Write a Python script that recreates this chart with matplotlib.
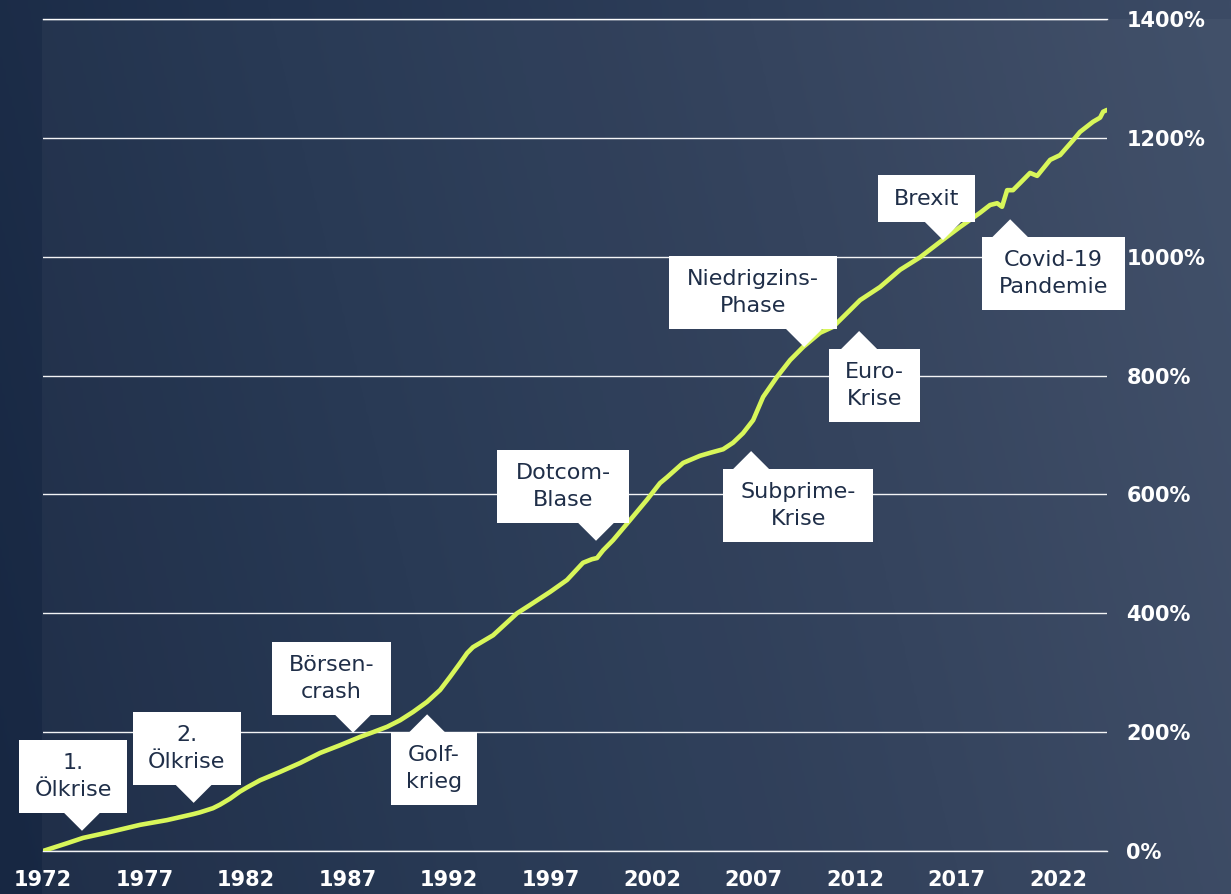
import numpy as np
import matplotlib
matplotlib.use("Agg")
import matplotlib.pyplot as plt
from matplotlib.patches import Polygon, Rectangle
from matplotlib.colors import LinearSegmentedColormap

# ---------------- data ----------------
years = [1972.0, 1973.18, 1973.97, 1975.30, 1976.78, 1978.11, 1979.39, 1979.73,
         1980.37, 1980.72, 1981.21, 1981.70, 1982.05, 1982.69, 1983.67, 1984.66,
         1985.65, 1986.63, 1987.62, 1988.26, 1988.95, 1989.59, 1990.23, 1990.92,
         1991.56, 1992.05, 1992.54, 1992.89, 1993.18, 1994.17, 1995.35, 1995.99,
         1996.98, 1997.81, 1998.60, 1999.04, 1999.29, 1999.59, 2000.08, 2000.92,
         2001.75, 2002.39, 2002.74, 2003.53, 2004.36, 2004.86, 2005.50, 2005.99,
         2006.48, 2006.98, 2007.47, 2008.16, 2008.80, 2009.44, 2010.28, 2010.92,
         2011.75, 2012.25, 2013.23, 2014.22, 2015.20, 2016.19, 2017.17, 2018.16,
         2018.65, 2019.00, 2019.24, 2019.49, 2019.78, 2020.13, 2020.62, 2020.97,
         2021.61, 2022.10, 2022.74, 2023.08, 2023.72, 2024.07, 2024.22, 2024.41]
performance = [0, 13, 22, 32, 44, 52, 62, 65,
               72, 78, 88, 100, 107, 119, 133, 148,
               165, 178, 192, 200, 209, 220, 234, 251,
               271, 293, 316, 333, 343, 363, 400, 414,
               436, 456, 485, 491, 493, 506, 523, 557,
               591, 619, 629, 653, 665, 670, 676, 687,
               703, 725, 764, 798, 826, 848, 872, 882,
               910, 927, 949, 978, 999, 1025, 1050, 1074,
               1087, 1090, 1084, 1112, 1112, 1124, 1141, 1136,
               1163, 1171, 1196, 1210, 1227, 1234, 1244, 1247]

x_ticks = [1972, 1977, 1982, 1987, 1992, 1997, 2002, 2007, 2012, 2017, 2022]
y_ticks = [0, 200, 400, 600, 800, 1000, 1200, 1400]
y_tick_labels = ["0%", "200%", "400%", "600%", "800%", "1000%", "1200%", "1400%"]

event_labels = ["1.\nÖlkrise", "2.\nÖlkrise", "Börsen-\ncrash", "Golf-\nkrieg",
                "Dotcom-\nBlase", "Subprime-\nKrise", "Niedrigzins-\nPhase",
                "Euro-\nKrise", "Brexit", "Covid-19\nPandemie"]
event_years = [1973.92, 1979.42, 1987.27, 1990.92, 1999.24, 2006.88, 2009.49,
               2012.20, 2016.33, 2019.64]
event_values = [34, 81, 199, 230, 522, 673, 848, 875, 1028, 1063]

# ---------------- layout / style ----------------
W, H = 1231, 894
LINE_COLOR = "#d8f65a"
TEXT_DARK = "#1f2e48"
# per-event box layout: (direction, box left offset from tip px, box width px)
event_layout = [("down", -63, 108), ("down", -61, 108), ("down", -81, 119),
                ("up", -36, 86), ("down", -99, 132), ("up", -28, 150),
                ("down", -135, 168), ("up", -30, 91), ("down", -65, 97),
                ("up", -28, 143)]

fig = plt.figure(figsize=(W / 100, H / 100), dpi=100)

# background gradient
bg = fig.add_axes([0, 0, 1, 1], zorder=0)
bg.set_axis_off()
gx = np.linspace(0, 1, 400)
gy = np.linspace(0, 1, 300)
GX, GY = np.meshgrid(gx, gy)
T = np.clip(0.85 * GX + 0.15 * GY, 0, 1)
cmap = LinearSegmentedColormap.from_list("bg", ["#172742", "#22334f", "#2e3e59", "#3c4b65"])
bg.imshow(T, extent=[0, 1, 0, 1], origin="lower", aspect="auto", cmap=cmap,
          vmin=0, vmax=1, interpolation="bicubic")
bg.add_patch(Rectangle((42 / W, 0), (W - 42) / W, (H - 19) / H,
                       transform=bg.transAxes, facecolor="white", alpha=0.035,
                       edgecolor="none"))
bg.set_xlim(0, 1)
bg.set_ylim(0, 1)

ax = fig.add_axes([43 / W, 43 / H, 1064 / W, 832 / H], zorder=1)
ax.set_facecolor("none")
ax.set_xlim(1972, 2024.41)
ax.set_ylim(0, 1400)
for s in ax.spines.values():
    s.set_visible(False)

ax.set_yticks(y_ticks)
ax.set_yticklabels(y_tick_labels)
ax.yaxis.tick_right()
ax.set_xticks(x_ticks)
ax.set_xticklabels([str(v) for v in x_ticks])
ax.tick_params(axis="both", length=0, colors="white", labelsize=15)
ax.tick_params(axis="y", pad=14)
ax.tick_params(axis="x", pad=14)
for lab in ax.get_xticklabels() + ax.get_yticklabels():
    lab.set_fontweight("bold")
ax.grid(axis="y", color="white", linewidth=1.0, alpha=0.95, zorder=1)
ax.grid(axis="x", visible=False)
ax.set_axisbelow(True)
ax.axhline(0, color="white", linewidth=1.0, alpha=0.95, zorder=1, clip_on=False)
ax.axhline(1400, color="white", linewidth=1.0, alpha=0.95, zorder=1, clip_on=False)

ax.plot(years, performance, color=LINE_COLOR, linewidth=3.3,
        solid_capstyle="round", solid_joinstyle="round", zorder=3)

# annotation callouts
fig.canvas.draw()
inv = fig.transFigure.inverted()
TRI_H = 18
TRI_HALF = 19
for label, ey, ev, (direc, off, bw) in zip(event_labels, event_years, event_values, event_layout):
    tx, ty = ax.transData.transform((ey, ev))
    nlines = label.count("\n") + 1
    bh = 73 if nlines == 2 else 47
    left = tx + off
    if direc == "down":
        base = ty + TRI_H
        bottom = base
        top = base + bh
        tri = [(tx - TRI_HALF, base + 1), (tx + TRI_HALF, base + 1), (tx, ty)]
    else:
        base = ty - TRI_H
        top = base
        bottom = base - bh
        tri = [(tx - TRI_HALF, base - 1), (tx + TRI_HALF, base - 1), (tx, ty)]
    p0 = inv.transform((left, bottom))
    p1 = inv.transform((left + bw, top))
    fig.patches.append(Rectangle(p0, p1[0] - p0[0], p1[1] - p0[1],
                                 transform=fig.transFigure, facecolor="white",
                                 edgecolor="none", zorder=5))
    tri_f = [inv.transform(p) for p in tri]
    fig.patches.append(Polygon(tri_f, closed=True, transform=fig.transFigure,
                               facecolor="white", edgecolor="none", zorder=5))
    c = inv.transform((left + bw / 2, (bottom + top) / 2))
    fig.text(c[0], c[1], label, ha="center", va="center", color=TEXT_DARK,
             fontsize=16, linespacing=1.45, zorder=6)

fig.savefig("out.png", dpi=100)
